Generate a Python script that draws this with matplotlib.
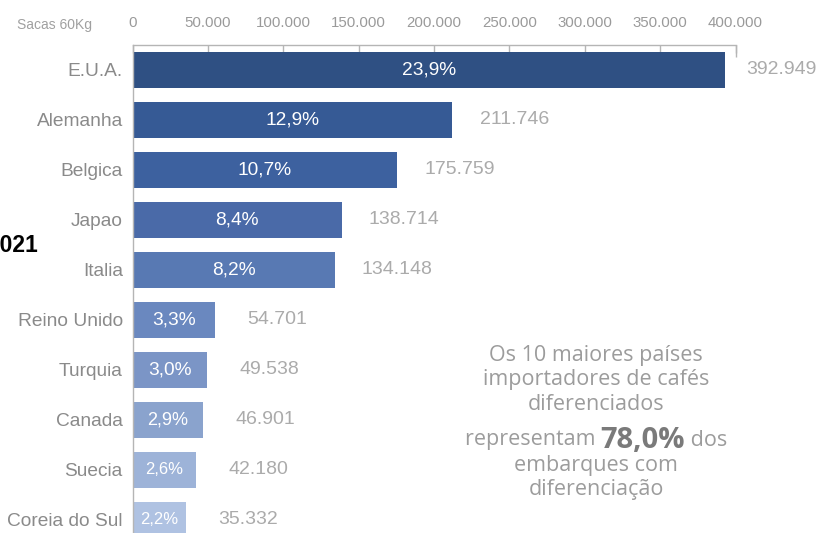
import matplotlib
matplotlib.use("Agg")
import matplotlib.pyplot as plt
from matplotlib.ticker import FuncFormatter

countries = ["E.U.A.", "Alemanha", "Belgica", "Japao", "Italia",
             "Reino Unido", "Turquia", "Canada", "Suecia", "Coreia do Sul"]
values = [392949, 211746, 175759, 138714, 134148, 54701, 49538, 46901, 42180, 35332]
shares = ["23,9%", "12,9%", "10,7%", "8,4%", "8,2%", "3,3%", "3,0%", "2,9%", "2,6%", "2,2%"]
xticks = [0, 50000, 100000, 150000, 200000, 250000, 300000, 350000, 400000]

colors = ["#2f5083", "#365a95", "#3d619f", "#4a6aa8", "#5879b3",
          "#6a88bf", "#7b95c6", "#8aa3cd", "#9db3d8", "#afc2e2"]

W, H = 819, 533
fig = plt.figure(figsize=(W / 100, H / 100), dpi=100)
x0, x1 = 132.5, 735.5
ytop = 45
ax = fig.add_axes([x0 / W, 0, (x1 - x0) / W, (H - ytop) / H])

font = "Liberation Sans"
ypos = list(range(len(countries)))
ax.barh(ypos, values, height=0.72, color=colors, zorder=2)
ax.set_xlim(0, 400000)
ax.set_ylim((H - 70) / 50, -0.5)

for sp in ["right", "bottom"]:
    ax.spines[sp].set_visible(False)
for sp in ["left", "top"]:
    ax.spines[sp].set_color("#b5b5b5")
    ax.spines[sp].set_linewidth(1.0)

ax.xaxis.tick_top()
ax.set_xticks(xticks)
ax.xaxis.set_major_formatter(FuncFormatter(lambda v, p: f"{int(v):,}".replace(",", ".")))
ax.tick_params(axis="x", direction="in", length=5.5, width=1.0, color="#b5b5b5",
               pad=10.5, labelsize=10.8, labelcolor="#9a9a9a")
for lbl in ax.get_xticklabels():
    lbl.set_family(font)
ax.vlines(400000, -0.5, -0.5 + 12 / 50, color="#b5b5b5", lw=1.0, clip_on=False)

ax.set_yticks(ypos)
ax.set_yticklabels(countries, family=font, fontsize=13.8, color="#8a8a8a")
ax.tick_params(axis="y", length=0, pad=7)

val_texts = []
for i, (v, s) in enumerate(zip(values, shares)):
    fs = 13.8 if i < 7 else (13 if i == 7 else 12)
    ax.text(v / 2, i, s, ha="center", va="center", color="white",
            fontsize=fs, family=font, zorder=3)
    t = ax.annotate(f"{v:,}".replace(",", "."), (v, i), xytext=(45, 0),
                    textcoords="offset points", ha="center", va="center",
                    fontsize=14, color="#ababab", family=font, annotation_clip=False)
    val_texts.append((t, v, i))

fig.text(17 / W, 1 - 25 / H, "Sacas 60Kg", ha="left", va="center", fontsize=10,
         color="#a0a0a0", family=["Liberation Sans Narrow", font], fontstretch="condensed")
fig.text(38.5 / W, 1 - 245 / H, "2021", ha="right", va="center", fontsize=16.5,
         fontweight="bold", color="black", family=font)

# annotation block
gray = "#9c9c9c"
cx = 596 / W
lines = [("Os 10 maiores países", 355), ("importadores de cafés", 380),
         ("diferenciados", 405), ("embarques com", 465), ("diferenciação", 490)]
for t, yp in lines:
    fig.text(cx, 1 - yp / H, t, ha="center", va="center", fontsize=15.5,
             color=gray, family="Open Sans")

y4 = 1 - 440 / H
t1 = fig.text(0, y4, "representam ", ha="left", va="center", fontsize=15.5,
              color=gray, family="Open Sans")
t2 = fig.text(0, y4, "78,0%", ha="left", va="center", fontsize=21,
              color="#7a7a7a", family="Open Sans", fontweight="bold")
t3 = fig.text(0, y4, " dos", ha="left", va="center", fontsize=15.5,
              color=gray, family="Open Sans")
fig.canvas.draw()
r = fig.canvas.get_renderer()
ws = [t.get_window_extent(r).width for t in (t1, t2, t3)]
start = cx * W - sum(ws) / 2
xpos = start
for t, w in zip((t1, t2, t3), ws):
    t.set_x(xpos / W)
    xpos += w

# keep value labels inside the figure (right margin)
for t, v, i in val_texts:
    bb = t.get_window_extent(r)
    if bb.x1 > W - 2:
        anchor_px = ax.transData.transform((v, i))[0]
        t.set_ha("right")
        t.xyann = ((W - 2 - anchor_px) * 72 / 100, 0)

fig.savefig("out.png", dpi=100)
